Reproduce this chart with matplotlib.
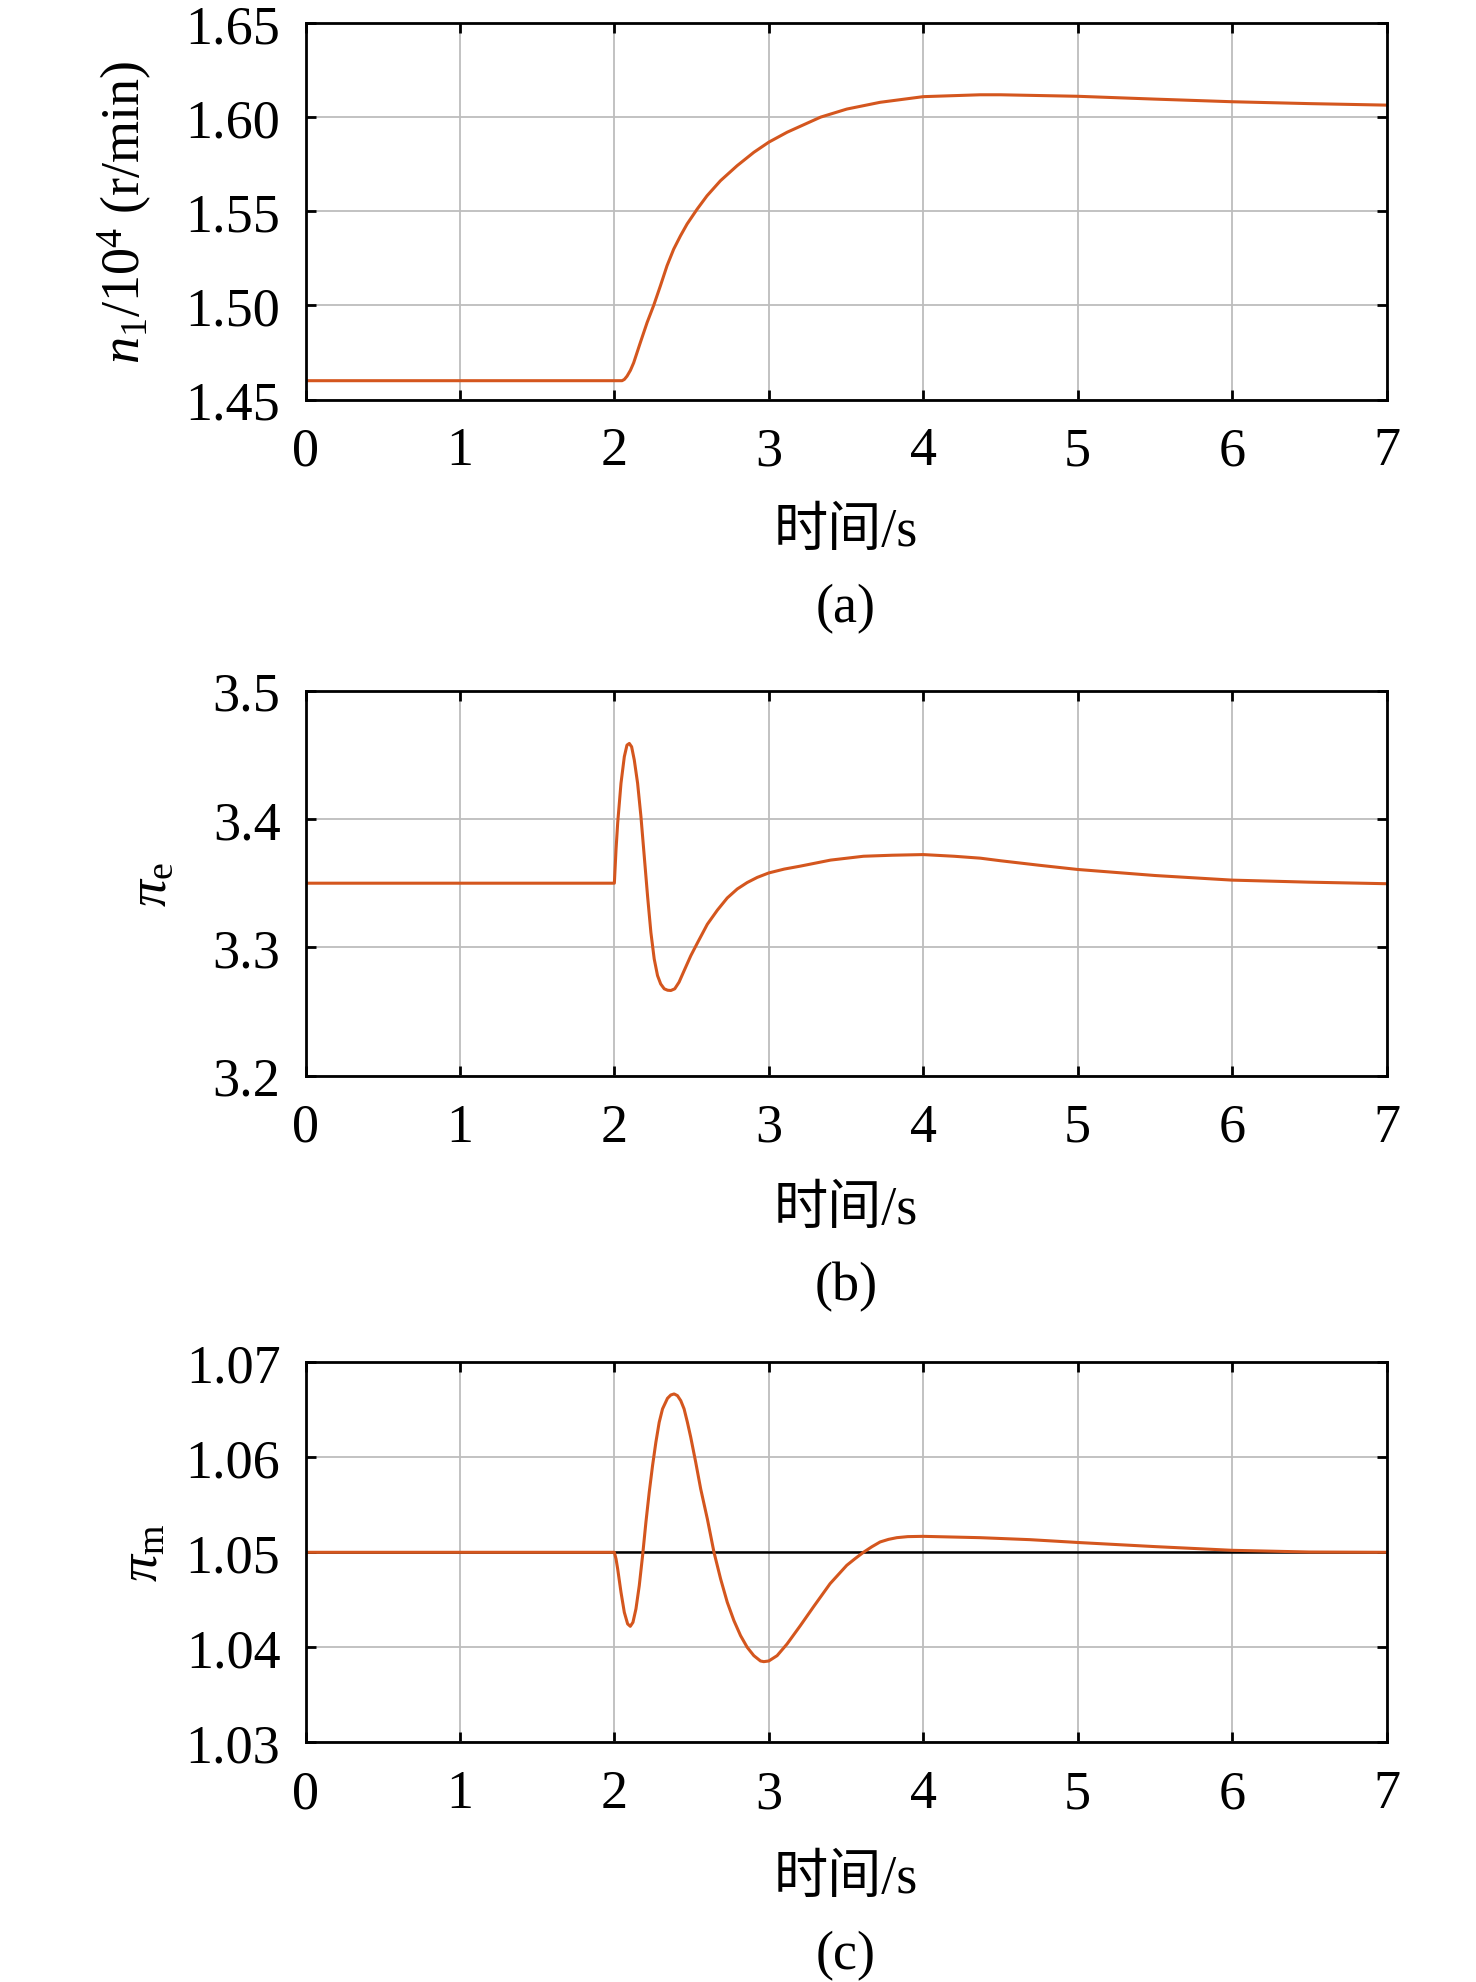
import matplotlib
matplotlib.use("Agg")
import matplotlib.pyplot as plt

plt.rcParams['font.family'] = ['Liberation Serif', 'Noto Sans CJK SC']
plt.rcParams['mathtext.fontset'] = 'custom'
plt.rcParams['mathtext.rm'] = 'Liberation Serif'
plt.rcParams['mathtext.it'] = 'Liberation Serif:italic'

# ---------------- data ----------------
x_ticks = [0, 1, 2, 3, 4, 5, 6, 7]

t_a = [0, 2.0, 2.05, 2.065, 2.082, 2.104, 2.125, 2.168, 2.212, 2.255, 2.298, 2.341, 2.384,
       2.428, 2.471, 2.536, 2.6, 2.687, 2.795, 2.903, 3.0, 3.119, 3.335, 3.505, 3.721,
       4.0, 4.368, 4.5, 5.0, 5.5, 6.0, 6.5, 7.0]
n_a = [1.460, 1.460, 1.460, 1.4607, 1.4624, 1.4655, 1.4695, 1.4802, 1.4909, 1.5001, 1.5104, 1.5211, 1.5299,
       1.537, 1.5433, 1.5512, 1.5583, 1.5663, 1.5743, 1.5814, 1.5868, 1.5921, 1.6001, 1.6044, 1.608,
       1.611, 1.612, 1.612, 1.6112, 1.6097, 1.6083, 1.6073, 1.6065]
yticks_a = [1.45, 1.50, 1.55, 1.60, 1.65]

t_b = [0, 2.0, 2.0108, 2.0215, 2.043, 2.0645, 2.0817, 2.0968, 2.1118, 2.129, 2.1505, 2.172,
       2.1935, 2.215, 2.2366, 2.258, 2.2796, 2.3, 2.323, 2.345, 2.366, 2.391, 2.419, 2.452,
       2.495, 2.538, 2.602, 2.667, 2.731, 2.796, 2.86, 2.925,
       3.0, 3.1, 3.204, 3.4, 3.613, 3.8, 4.0, 4.2, 4.37, 4.5, 4.75, 5.0, 5.5, 6.0, 6.5, 7.0]
pe_b = [3.35, 3.35, 3.3762, 3.3969, 3.4279, 3.4486, 3.4576, 3.4589, 3.4563, 3.446, 3.4279, 3.4021,
        3.3711, 3.340, 3.3116, 3.291, 3.278, 3.2715, 3.2677, 3.2666, 3.2664, 3.2677, 3.2729, 3.2819,
        3.2935, 3.3035, 3.318, 3.329, 3.3385, 3.3455, 3.3505, 3.3545,
        3.358, 3.361, 3.3633, 3.368, 3.371, 3.3718, 3.3723, 3.371, 3.3695, 3.3675, 3.364, 3.3607, 3.356, 3.3524, 3.3508, 3.3496]
yticks_b = [3.2, 3.3, 3.4, 3.5]

t_c = [0, 2.0, 2.0108, 2.0215, 2.043, 2.0645, 2.086, 2.1032, 2.1204, 2.1398, 2.1613, 2.1828,
       2.2043, 2.2258, 2.2473, 2.2688, 2.2903, 2.3118, 2.3441, 2.3656, 2.3871, 2.4086, 2.4301,
       2.4516, 2.4731, 2.4946, 2.5269, 2.5591, 2.6022, 2.6452, 2.6882, 2.7312, 2.7742, 2.8172,
       2.8602, 2.9032, 2.9462, 2.9677, 3.0, 3.0538, 3.1183, 3.2043, 3.289, 3.397, 3.505, 3.56,
       3.613, 3.667, 3.721, 3.775, 3.829, 3.9, 4.0, 4.368, 4.692, 5.016, 5.5, 6.0, 6.5, 7.0]
pm_c = [1.05, 1.05, 1.0493, 1.04825, 1.04579, 1.04368, 1.04246, 1.04221, 1.04263, 1.04404, 1.04649, 1.04965,
        1.05316, 1.05632, 1.05912, 1.06158, 1.06368, 1.06509, 1.06621, 1.06656, 1.06667, 1.06649, 1.06596,
        1.06509, 1.06368, 1.06211, 1.05947, 1.05667, 1.05351, 1.05, 1.04719, 1.04474, 1.04281, 1.04123,
        1.04, 1.03912, 1.03856, 1.03849, 1.03856, 1.03912, 1.04035, 1.04228, 1.04425, 1.0467, 1.04863, 1.04935,
        1.05, 1.05058, 1.05109, 1.05136, 1.05154, 1.05165, 1.05168, 1.05154, 1.05133, 1.05102, 1.0506, 1.05021, 1.05003, 1.05]
yticks_c = [1.03, 1.04, 1.05, 1.06, 1.07]
ref_c = 1.05

ylabels = [r'$\mathit{n}_{\mathrm{1}}$/10$^{4}$ (r/min)', r'$\mathit{\pi}_{\mathrm{e}}$', r'$\mathit{\pi}_{\mathrm{m}}$']
captions = ['(a)', '(b)', '(c)']
xlabel = '时间/s'

# ---------------- layout ----------------
W, H = 1476, 1983
fig = plt.figure(figsize=(W / 100, H / 100), dpi=100)
L, R = 305.5, 1386.5
panels = [(24.3, 400.5), (691.7, 1076.7), (1363.3, 1743.3)]
line_color = '#D4561E'
grid_color = '#BDBDBD'
tick_fs = 39
lab_coords = [-0.140, -0.118, -0.126]
xlab_y = [533, 1211, 1880]
cap_y = [609, 1287, 1956]

series = [(t_a, n_a, yticks_a, '%.2f'), (t_b, pe_b, yticks_b, '%.1f'), (t_c, pm_c, yticks_c, '%.2f')]

for i, ((top, bot), (tx, vy, yt, fmt)) in enumerate(zip(panels, series)):
    ax = fig.add_axes([L / W, 1 - bot / H, (R - L) / W, (bot - top) / H])
    if i == 2:
        ax.axhline(ref_c, color='black', lw=1.8, zorder=2)
    ax.plot(tx, vy, color=line_color, lw=2.2, zorder=3, solid_joinstyle='round')
    ax.set_xlim(0, 7)
    ax.set_ylim(yt[0], yt[-1])
    ax.set_xticks(x_ticks)
    ax.set_yticks(yt)
    ax.set_yticklabels([fmt % v for v in yt])
    ax.grid(True, color=grid_color, lw=1.3)
    ax.set_axisbelow(True)
    for s in ax.spines.values():
        s.set_linewidth(2.0)
        s.set_zorder(5)
    ax.tick_params(direction='in', length=7, width=2.0, top=True, right=True,
                   labelsize=tick_fs, colors='black')
    ax.tick_params(axis='y', pad=18)
    ax.tick_params(axis='x', pad=19)
    ax.set_ylabel(ylabels[i], fontsize=tick_fs)
    ax.yaxis.set_label_coords(lab_coords[i], 0.5)
    fig.text((L + R) / 2 / W, 1 - xlab_y[i] / H, xlabel, fontsize=tick_fs,
             ha='center', va='center')
    fig.text((L + R) / 2 / W, 1 - cap_y[i] / H, captions[i], fontsize=tick_fs,
             ha='center', va='center')

fig.savefig('out.png', dpi=100, facecolor='white')
